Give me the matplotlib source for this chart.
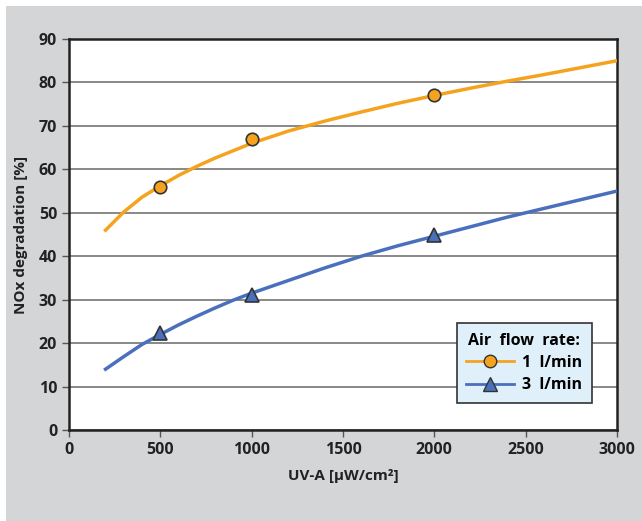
import numpy as np
import matplotlib.pyplot as plt
from matplotlib.patches import Rectangle

# curve readings (UV-A in µW/cm², NOx degradation in %)
uv = [200, 300, 400, 500, 600, 700, 800, 900, 1000, 1200, 1400, 1600, 1800,
      2000, 2200, 2400, 2600, 2800, 3000]
flow1_curve = [46, 50.2, 53.6, 56.2, 58.6, 60.7, 62.6, 64.3, 66, 68.8, 71.1, 73.2,
               75.2, 77, 78.7, 80.3, 81.8, 83.4, 85]
flow3_curve = [14, 16.9, 19.7, 22, 24.2, 26.2, 28.1, 29.9, 31.5, 34.4, 37.3, 40,
               42.4, 44.6, 46.8, 49, 51, 53, 55]

# measured points
uv_points = [500, 1000, 2000]
flow1_points = [56, 67, 77]
flow3_points = [22.3, 31, 45]

labels = ["1  l/min", "3  l/min"]
legend_title = "Air  flow  rate:"

orange = "#f5a31f"
blue = "#4a70bd"
bg = "#d4d5d7"

plt.rcParams['font.family'] = ['Open Sans', 'DejaVu Sans']

fig = plt.figure(figsize=(6.42, 5.21), dpi=100)
fig.patches.append(Rectangle((6 / 642, 0), 1, 1 - 6 / 521, transform=fig.transFigure,
                             facecolor=bg, edgecolor='none', zorder=-1))
ax = fig.add_axes([69 / 642, 91 / 521, 548 / 642, 391 / 521])
ax.set_facecolor('white')

ax.plot(uv, flow1_curve, color=orange, lw=2.5, zorder=3)
ax.plot(uv, flow3_curve, color=blue, lw=2.5, zorder=3)
ax.plot(uv_points, flow1_points, 'o', color=orange, mec='#333333', mew=1.2, ms=9, zorder=4)
ax.plot(uv_points, flow3_points, '^', color=blue, mec='#333333', mew=1.2, ms=10, zorder=4)

# legend proxies
h1, = ax.plot([], [], color=orange, lw=2, marker='o', mfc=orange, mec='#333333', ms=9)
h2, = ax.plot([], [], color=blue, lw=2, marker='^', mfc=blue, mec='#333333', ms=10)
leg = ax.legend([h1, h2], labels, title=legend_title, loc='lower right',
                bbox_to_anchor=(0.954, 0.069), borderaxespad=0, frameon=True, fancybox=False,
                prop={'weight': 'bold', 'size': 11.5}, handlelength=3,
                borderpad=0.6, labelspacing=0.4, handletextpad=0.5)
leg.get_title().set_fontweight('bold')
leg.get_title().set_fontsize(11.5)
leg.get_frame().set_facecolor('#e0f0fb')
leg.get_frame().set_edgecolor('#333333')
leg.get_frame().set_linewidth(1.2)
leg.get_frame().set_alpha(1)

ax.set_xlim(0, 3000)
ax.set_ylim(0, 90)
ax.set_xticks(range(0, 3001, 500))
ax.set_yticks(range(0, 91, 10))
ax.yaxis.grid(True, color='#7f7f7f', lw=1.3)
ax.set_axisbelow(True)
for s in ax.spines.values():
    s.set_color('#222222')
    s.set_linewidth(1.8)
ax.tick_params(direction='out', length=5, width=1, color='#555555',
               labelsize=11.5, labelcolor='#222222')
for t in ax.get_xticklabels() + ax.get_yticklabels():
    t.set_fontweight('bold')

ax.set_xlabel("UV-A [µW/cm²]", fontsize=11, fontweight='bold', color='#222222', labelpad=8)
ax.set_ylabel("NOx degradation [%]", fontsize=11, fontweight='bold', color='#222222', labelpad=8)

fig.savefig("out.png", dpi=100)
